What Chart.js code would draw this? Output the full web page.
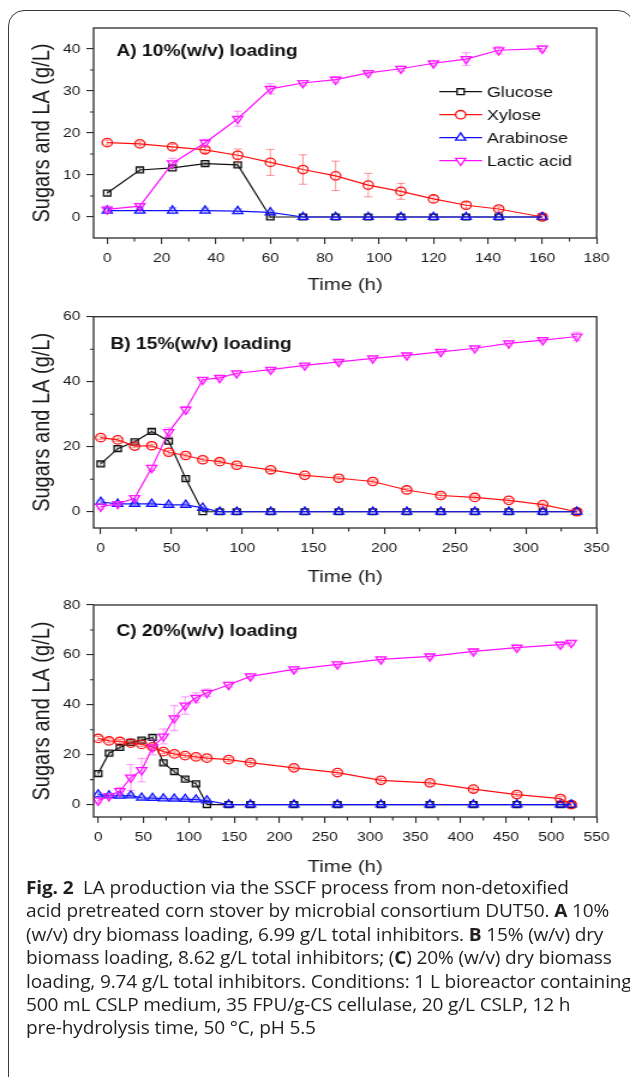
<!DOCTYPE html>
<html>
<head>
<meta charset="utf-8">
<title>Fig. 2 SSCF</title>
<script src="https://cdn.jsdelivr.net/npm/chart.js@4.4.1/dist/chart.umd.min.js"></script>
<style>
  body { margin: 0; background: #fff; width: 630px; height: 1077px; overflow: hidden; position: relative; }
  .card { position: absolute; left: 8px; top: 10px; width: 626px; height: 1100px; box-sizing: border-box;
          border: 1.5px solid #3a3a3a; border-radius: 16px; }
  /* the source figure is stretched horizontally, so the canvases and caption are too */
  .panel { position: absolute; left: 0; transform: scaleX(1.2); transform-origin: 0 0; }
  .caption { position: absolute; left: 26px; top: 876px; font-family: "Open Sans", "Noto Sans", sans-serif;
             font-size: 17.3px; line-height: 23.4px; color: #231f20; white-space: nowrap; letter-spacing: -0.15px;
             transform: scaleX(1.105); transform-origin: 0 0; }
  .caption b { font-weight: 700; }
</style>
</head>
<body>
<div class="card"></div>
<canvas id="chartA" class="panel" width="525" height="300" style="top:0px"></canvas>
<canvas id="chartB" class="panel" width="525" height="290" style="top:300px"></canvas>
<canvas id="chartC" class="panel" width="525" height="290" style="top:590px"></canvas>
<div class="caption">
  <div><b>Fig. 2</b>&nbsp; LA production via the SSCF process from non-detoxified</div>
  <div>acid pretreated corn stover by microbial consortium DUT50. <b>A</b> 10%</div>
  <div>(w/v) dry biomass loading, 6.99 g/L total inhibitors. <b>B</b> 15% (w/v) dry</div>
  <div>biomass loading, 8.62 g/L total inhibitors; (<b>C</b>) 20% (w/v) dry biomass</div>
  <div>loading, 9.74 g/L total inhibitors. Conditions: 1 L bioreactor containing</div>
  <div>500 mL CSLP medium, 35 FPU/g-CS cellulase, 20 g/L CSLP, 12 h</div>
  <div>pre-hydrolysis time, 50 °C, pH 5.5</div>
</div>
<script>
// ---- Panel A: 10% (w/v) loading
const timeA = [0, 12, 24, 36, 48, 60, 72, 84, 96, 108, 120, 132, 144, 160];
const glucoseA = [5.7, 11.2, 11.7, 12.7, 12.4, 0, 0, 0, 0, 0, 0, 0, 0, 0];
const xyloseA = [17.7, 17.4, 16.7, 16.0, 14.7, 13.0, 11.3, 9.8, 7.6, 6.1, 4.3, 2.8, 1.9, 0];
const arabinoseA = [1.5, 1.5, 1.5, 1.5, 1.4, 1.1, 0, 0, 0, 0, 0, 0, 0, 0];
const lacticA = [1.8, 2.6, 12.8, 17.7, 23.4, 30.5, 31.9, 32.7, 34.3, 35.3, 36.6, 37.6, 39.7, 40.1];
const glucoseErrA = [0.6, 0.5, 0.6, 0.4, 0.5, 0.2, 0, 0, 0, 0, 0, 0, 0, 0];
const xyloseErrA = [0.6, 0.5, 0.6, 0.6, 1.5, 3.1, 3.5, 3.5, 2.8, 1.9, 0.8, 0.7, 0.5, 0.5];
const arabinoseErrA = [0.6, 0.6, 0.7, 0.6, 0.6, 0.4, 0, 0, 0, 0, 0, 0, 0, 0];
const lacticErrA = [0.8, 0.5, 1.2, 0.8, 1.8, 1.2, 0.6, 0.7, 0.5, 0.6, 0.5, 1.5, 0.9, 0.7];
const xTicksA = [0, 20, 40, 60, 80, 100, 120, 140, 160, 180];
const yTicksA = [0, 10, 20, 30, 40];

// ---- Panel B: 15% (w/v) loading
const timeB = [0, 12, 24, 36, 48, 60, 72, 84, 96, 120, 144, 168, 192, 216, 240, 264, 288, 312, 336];
const glucoseB = [14.7, 19.4, 21.5, 24.7, 21.7, 10.2, 0, 0, 0, 0, 0, 0, 0, 0, 0, 0, 0, 0, 0];
const xyloseB = [22.8, 22.1, 20.2, 20.3, 18.3, 17.3, 16.0, 15.4, 14.3, 12.9, 11.2, 10.3, 9.3, 6.7, 5.0, 4.4, 3.5, 2.2, 0];
const arabinoseB = [3.0, 2.4, 2.4, 2.4, 2.1, 2.1, 1.2, 0, 0, 0, 0, 0, 0, 0, 0, 0, 0, 0, 0];
const lacticB = [1.6, 2.4, 4.2, 13.5, 24.5, 31.4, 40.6, 41.2, 42.6, 43.7, 45.0, 46.1, 47.2, 48.1, 49.2, 50.3, 51.8, 52.8, 53.9];
const glucoseErrB = [0.6, 0.6, 0.5, 0.6, 0.6, 0.5, 0, 0, 0, 0, 0, 0, 0, 0, 0, 0, 0, 0, 0];
const xyloseErrB = [0.5, 0.5, 0.5, 0.5, 0.6, 0.5, 0.5, 0.5, 0.5, 0.5, 0.5, 0.5, 0.5, 0.5, 0.6, 0.5, 0.6, 0.5, 0.5];
const arabinoseErrB = [0.6, 0.5, 0.5, 0.5, 0.5, 0.5, 0.4, 0, 0, 0, 0, 0, 0, 0, 0, 0, 0, 0, 0];
const lacticErrB = [0.8, 0.6, 0.8, 0.8, 1.3, 1.0, 0.6, 0.5, 0.6, 0.6, 0.6, 0.6, 0.6, 0.6, 0.6, 0.6, 0.6, 0.6, 1.3];
const xTicksB = [0, 50, 100, 150, 200, 250, 300, 350];
const yTicksB = [0, 20, 40, 60];

// ---- Panel C: 20% (w/v) loading
const timeC = [0, 12, 24, 36, 48, 60, 72, 84, 96, 108, 120, 144, 168, 216, 264, 312, 366, 414, 462, 510, 522];
const glucoseC = [12.4, 20.6, 22.9, 24.9, 25.8, 26.9, 16.7, 13.2, 10.2, 8.3, 0, 0, 0, 0, 0, 0, 0, 0, 0, 0, 0];
const xyloseC = [26.5, 25.5, 25.3, 24.6, 24.1, 23.1, 21.2, 20.3, 19.6, 19.1, 18.6, 18.0, 16.8, 14.7, 12.8, 9.7, 8.7, 6.2, 4.0, 2.4, 0];
const arabinoseC = [4.0, 3.6, 3.5, 3.6, 2.7, 2.6, 2.4, 2.3, 2.2, 2.0, 1.6, 0, 0, 0, 0, 0, 0, 0, 0, 0, 0];
const lacticC = [1.6, 3.4, 5.4, 10.8, 13.8, 22.9, 27.3, 34.6, 39.7, 42.8, 44.8, 48.0, 51.4, 54.2, 56.2, 58.2, 59.4, 61.4, 62.9, 64.1, 64.8];
const glucoseErrC = [0.7, 0.7, 0.7, 0.7, 0.7, 0.7, 0.7, 0.7, 0.7, 0.7, 0, 0, 0, 0, 0, 0, 0, 0, 0, 0, 0];
const xyloseErrC = [0.8, 0.8, 0.8, 0.8, 0.8, 0.8, 0.8, 0.8, 0.8, 0.8, 0.8, 0.8, 0.8, 0.8, 0.8, 0.8, 0.8, 0.8, 0.8, 0.8, 0.8];
const arabinoseErrC = [0.7, 0.7, 0.7, 0.7, 0.7, 0.7, 0.7, 0.7, 0.7, 0.7, 0.7, 0, 0, 0, 0, 0, 0, 0, 0, 0, 0];
const lacticErrC = [1.0, 1.0, 1.5, 5.2, 4.7, 3.0, 3.0, 5.0, 3.5, 2.0, 1.5, 1.0, 1.0, 1.0, 1.0, 1.0, 1.0, 1.0, 1.0, 1.0, 1.0];
const xTicksC = [0, 50, 100, 150, 200, 250, 300, 350, 400, 450, 500, 550];
const yTicksC = [0, 20, 40, 60, 80];

const seriesNames = ['Glucose', 'Xylose', 'Arabinose', 'Lactic acid'];

const FONT = '"Liberation Sans", Arial, sans-serif';
const AXIS_COLOR = '#2b2b2b';

function toPoints(times, values) {
  return times.map((t, i) => ({ x: t, y: values[i] }));
}

function buildDatasets(times, values, errors) {
  const styles = [
    { color: '#111111', err: 'rgba(60,60,60,0.55)', pointStyle: 'rect', radius: 4.2, rotation: 0 },
    { color: '#ff1010', err: 'rgba(255,60,60,0.55)', pointStyle: 'circle', radius: 4.2, rotation: 0 },
    { color: '#1010ff', err: 'rgba(70,70,255,0.55)', pointStyle: 'triangle', radius: 4.8, rotation: 0 },
    { color: '#ff10ff', err: 'rgba(255,60,255,0.55)', pointStyle: 'triangle', radius: 4.8, rotation: 180 }
  ];
  return values.map((vals, i) => ({
    label: seriesNames[i],
    data: toPoints(times, vals),
    errors: errors[i],
    errorColor: styles[i].err,
    borderColor: styles[i].color,
    backgroundColor: 'rgba(0,0,0,0)',
    borderWidth: 1.2,
    pointStyle: styles[i].pointStyle,
    pointRotation: styles[i].rotation,
    pointRadius: styles[i].radius,
    pointBorderWidth: 1.3,
    pointBorderColor: styles[i].color,
    pointBackgroundColor: 'rgba(0,0,0,0)',
    tension: 0,
    order: 4 - i
  }));
}

// error bars, drawn through the dataset's own scales
const errorBarPlugin = {
  id: 'errorBars',
  afterDatasetsDraw(chart) {
    const ctx = chart.ctx;
    const yScale = chart.scales.y;
    chart.data.datasets.forEach((ds, i) => {
      const meta = chart.getDatasetMeta(i);
      ctx.save();
      ctx.strokeStyle = ds.errorColor;
      ctx.lineWidth = 1;
      meta.data.forEach((pt, j) => {
        const e = ds.errors[j];
        if (!e) return;
        const v = ds.data[j].y;
        const top = yScale.getPixelForValue(v + e);
        const bot = yScale.getPixelForValue(v - e);
        ctx.beginPath();
        ctx.moveTo(pt.x, top); ctx.lineTo(pt.x, bot);
        ctx.moveTo(pt.x - 3.5, top); ctx.lineTo(pt.x + 3.5, top);
        ctx.moveTo(pt.x - 3.5, bot); ctx.lineTo(pt.x + 3.5, bot);
        ctx.stroke();
      });
      ctx.restore();
    });
  }
};

// closed frame + minor ticks halfway between major ones
const framePlugin = {
  id: 'frame',
  afterDraw(chart, args, opts) {
    const { ctx, chartArea: a, scales } = chart;
    ctx.save();
    ctx.strokeStyle = AXIS_COLOR;
    ctx.lineWidth = 1.3;
    ctx.strokeRect(a.left, a.top, a.right - a.left, a.bottom - a.top);
    ctx.lineWidth = 1.1;
    ctx.beginPath();
    const xt = opts.xTicks, yt = opts.yTicks;
    for (let i = 0; i < xt.length - 1; i++) {
      const px = scales.x.getPixelForValue((xt[i] + xt[i + 1]) / 2);
      ctx.moveTo(px, a.bottom); ctx.lineTo(px, a.bottom + 3.5);
    }
    for (let i = 0; i < yt.length - 1; i++) {
      const py = scales.y.getPixelForValue((yt[i] + yt[i + 1]) / 2);
      ctx.moveTo(a.left, py); ctx.lineTo(a.left - 3, py);
    }
    ctx.stroke();
    ctx.restore();
  }
};

const panelTitlePlugin = {
  id: 'panelTitle',
  afterDraw(chart, args, opts) {
    const ctx = chart.ctx;
    ctx.save();
    ctx.font = 'bold 16px ' + FONT;
    ctx.fillStyle = '#111';
    ctx.textBaseline = 'middle';
    ctx.fillText(opts.text, opts.x, opts.y);
    ctx.restore();
  }
};

const seriesLegendPlugin = {
  id: 'seriesLegend',
  afterDraw(chart, args, opts) {
    if (!opts.show) return;
    const ctx = chart.ctx;
    chart.data.datasets.forEach((ds, i) => {
      const y = opts.top + i * opts.rowGap;
      ctx.save();
      ctx.strokeStyle = ds.borderColor;
      ctx.lineWidth = 1.2;
      ctx.beginPath();
      ctx.moveTo(opts.left, y);
      ctx.lineTo(opts.left + opts.lineLength, y);
      ctx.stroke();
      ctx.fillStyle = '#fff';
      ctx.lineWidth = 1.3;
      Chart.helpers.drawPoint(ctx, {
        pointStyle: ds.pointStyle, rotation: ds.pointRotation, radius: ds.pointRadius, borderWidth: 1.3
      }, opts.left + opts.lineLength / 2, y);
      ctx.font = '15px ' + FONT;
      ctx.fillStyle = '#111';
      ctx.textBaseline = 'middle';
      ctx.fillText(ds.label, opts.left + opts.lineLength + 4, y + 1);
      ctx.restore();
    });
  }
};

function makePanel(id, cfg) {
  const ctx = document.getElementById(id).getContext('2d');
  return new Chart(ctx, {
    type: 'line',
    data: { datasets: buildDatasets(cfg.times, cfg.values, cfg.errors) },
    plugins: [errorBarPlugin, framePlugin, panelTitlePlugin, seriesLegendPlugin],
    options: {
      responsive: false,
      animation: false,
      layout: { padding: { left: 0, top: cfg.padTop, right: 27.8, bottom: 0 } },
      plugins: {
        legend: { display: false },
        tooltip: { enabled: false },
        frame: { xTicks: cfg.xTicks, yTicks: cfg.yTicks },
        panelTitle: cfg.title,
        seriesLegend: cfg.legend || { show: false }
      },
      scales: {
        x: {
          type: 'linear',
          min: cfg.xMin,
          max: cfg.xMax,
          afterBuildTicks: (scale) => { scale.ticks = cfg.xTicks.map(v => ({ value: v })); },
          afterFit: (scale) => { scale.height = cfg.xHeight; },
          border: { display: false },
          grid: { drawOnChartArea: false, drawTicks: true, tickLength: 6, color: AXIS_COLOR, lineWidth: 1.1 },
          ticks: {
            color: '#1a1a1a',
            font: { family: FONT, size: 13 },
            padding: 7,
            maxRotation: 0,
            autoSkip: false,
            callback: (v) => String(v)
          },
          title: {
            display: true,
            text: 'Time (h)',
            color: '#1a1a1a',
            font: { family: FONT, size: 17 },
            padding: { top: 0, bottom: cfg.xTitlePad }
          }
        },
        y: {
          type: 'linear',
          min: cfg.yMin,
          max: cfg.yMax,
          afterBuildTicks: (scale) => { scale.ticks = cfg.yTicks.map(v => ({ value: v })); },
          afterFit: (scale) => { scale.width = 78; },
          border: { display: false },
          grid: { drawOnChartArea: false, drawTicks: true, tickLength: 6, color: AXIS_COLOR, lineWidth: 1.1 },
          ticks: {
            color: '#1a1a1a',
            font: { family: FONT, size: 13 },
            padding: 5,
            callback: (v) => String(v)
          },
          title: {
            display: true,
            text: 'Sugars and LA (g/L)',
            color: '#1a1a1a',
            font: { family: FONT, size: 20 },
            padding: { top: 23, bottom: 0 }
          }
        }
      }
    }
  });
}

window.addEventListener('load', () => {
  makePanel('chartA', {
    times: timeA,
    values: [glucoseA, xyloseA, arabinoseA, lacticA],
    errors: [glucoseErrA, xyloseErrA, arabinoseErrA, lacticErrA],
    xTicks: xTicksA, yTicks: yTicksA,
    xMin: -5, xMax: 180, yMin: -5, yMax: 45,
    padTop: 28, xHeight: 62, xTitlePad: 4.8,
    title: { text: 'A) 10%(w/v) loading', x: 97, y: 52 },
    legend: { show: true, left: 366, lineLength: 35.7, top: 91.7, rowGap: 23 }
  });
  makePanel('chartB', {
    times: timeB,
    values: [glucoseB, xyloseB, arabinoseB, lacticB],
    errors: [glucoseErrB, xyloseErrB, arabinoseErrB, lacticErrB],
    xTicks: xTicksB, yTicks: yTicksB,
    xMin: -5, xMax: 350, yMin: -5, yMax: 60,
    padTop: 16.7, xHeight: 62, xTitlePad: 2.8,
    title: { text: 'B) 15%(w/v) loading', x: 92, y: 45 }
  });
  makePanel('chartC', {
    times: timeC,
    values: [glucoseC, xyloseC, arabinoseC, lacticC],
    errors: [glucoseErrC, xyloseErrC, arabinoseErrC, lacticErrC],
    xTicks: xTicksC, yTicks: yTicksC,
    xMin: -5, xMax: 550, yMin: -5, yMax: 80,
    padTop: 15, xHeight: 63, xTitlePad: 2.8,
    title: { text: 'C) 20%(w/v) loading', x: 97, y: 42 }
  });
});
</script>
</body>
</html>
